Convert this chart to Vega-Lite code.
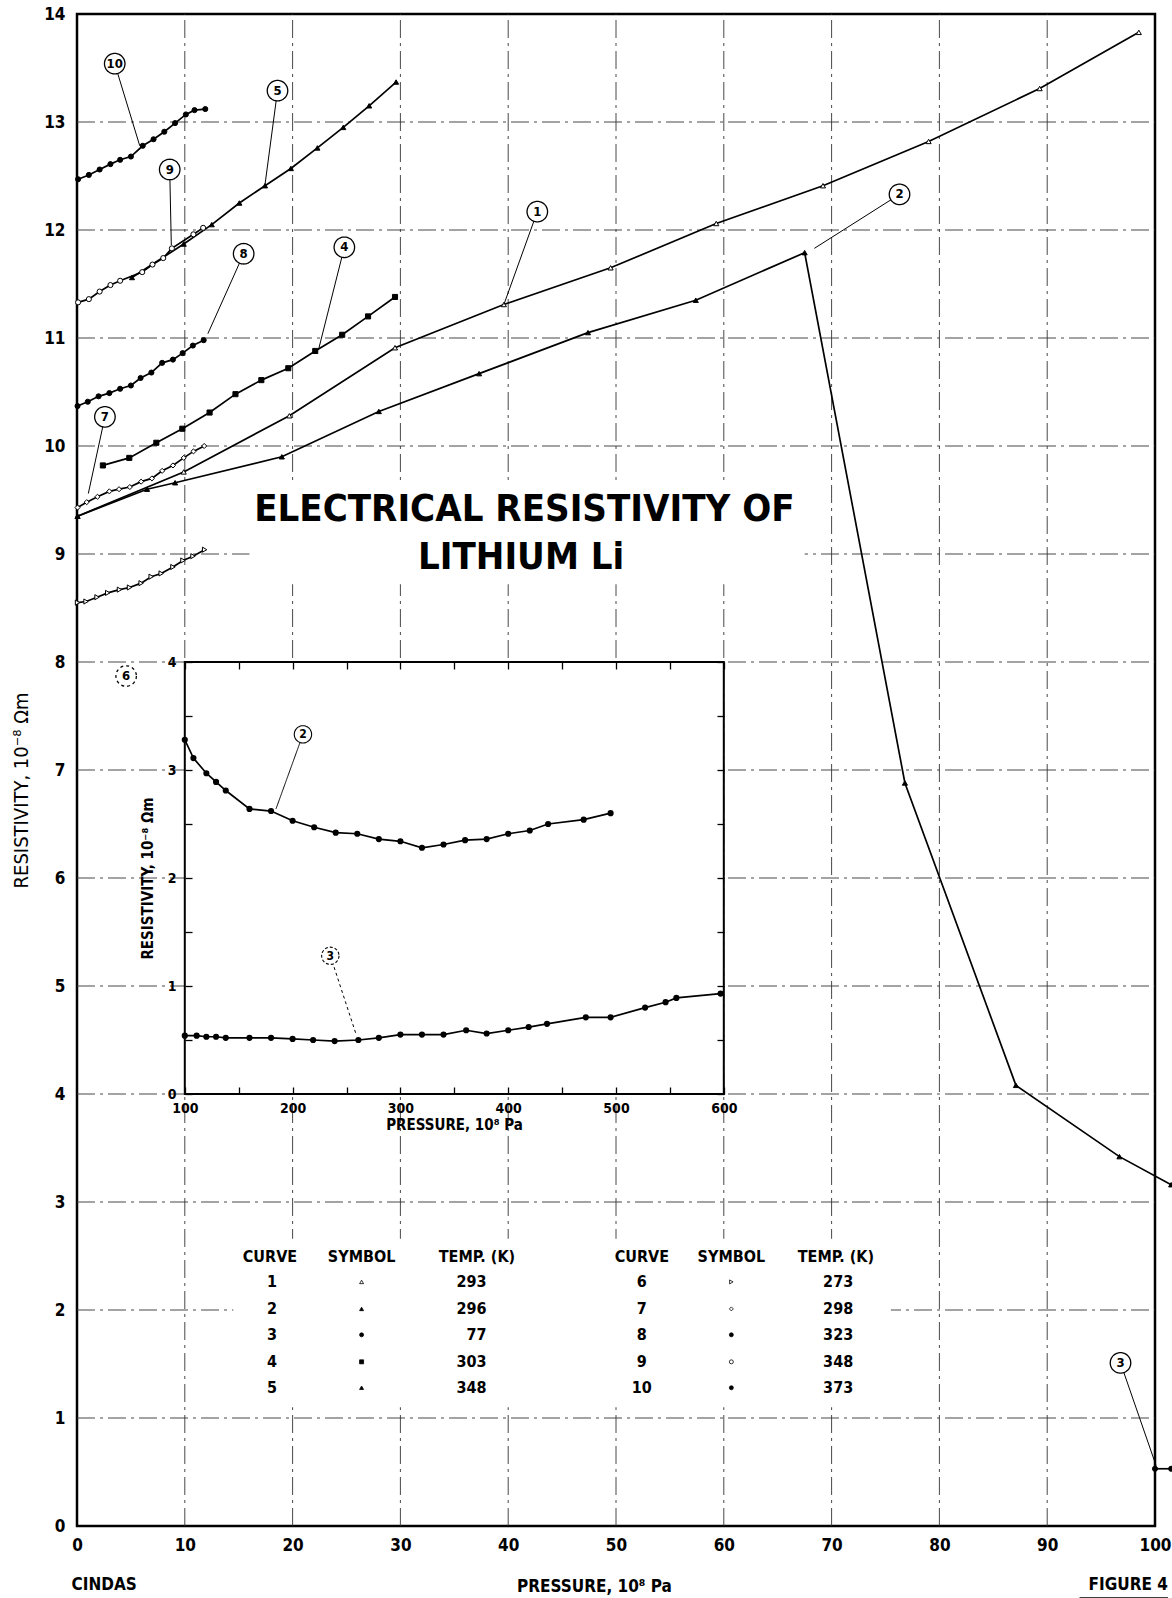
{
  "$schema": "https://vega.github.io/schema/vega-lite/v6.json",
  "width": 1078,
  "height": 1512,
  "autosize": "none",
  "padding": {"left": 77, "top": 14, "right": 17, "bottom": 72},
  "background": "white",
  "config": {
    "font": "Liberation Sans Narrow, DejaVu Sans Condensed, sans-serif",
    "view": {"stroke": "black", "strokeWidth": 2.5},
    "axis": {"labelColor": "black", "titleColor": "black"}
  },
  "datasets": {
    "gridV": [
      {"p": 10, "r": 0, "r2": 14}, {"p": 20, "r": 0, "r2": 14}, {"p": 30, "r": 0, "r2": 14}, {"p": 40, "r": 0, "r2": 14}, {"p": 50, "r": 0, "r2": 14},
      {"p": 60, "r": 0, "r2": 14}, {"p": 70, "r": 0, "r2": 14}, {"p": 80, "r": 0, "r2": 14}, {"p": 90, "r": 0, "r2": 14}
    ],
    "gridH": [
      {"r": 1, "p": 0, "p2": 100}, {"r": 2, "p": 0, "p2": 100}, {"r": 3, "p": 0, "p2": 100}, {"r": 4, "p": 0, "p2": 100}, {"r": 5, "p": 0, "p2": 100},
      {"r": 6, "p": 0, "p2": 100}, {"r": 7, "p": 0, "p2": 100}, {"r": 8, "p": 0, "p2": 100}, {"r": 9, "p": 0, "p2": 100}, {"r": 10, "p": 0, "p2": 100},
      {"r": 11, "p": 0, "p2": 100}, {"r": 12, "p": 0, "p2": 100}, {"r": 13, "p": 0, "p2": 100}
    ],
    "boxes": [
      {"p": 16.0, "p2": 67.5, "r": 8.72, "r2": 9.66},
      {"p": 14.5, "p2": 75.5, "r": 1.1, "r2": 2.66}
    ],
    "curves": [
      {"curve": 1, "p": 0.05, "r": 9.35}, {"curve": 1, "p": 9.9, "r": 9.76}, {"curve": 1, "p": 19.7, "r": 10.28}, {"curve": 1, "p": 29.5, "r": 10.91}, {"curve": 1, "p": 39.6, "r": 11.31}, {"curve": 1, "p": 49.5, "r": 11.65}, {"curve": 1, "p": 59.3, "r": 12.06}, {"curve": 1, "p": 69.2, "r": 12.41}, {"curve": 1, "p": 79.0, "r": 12.82}, {"curve": 1, "p": 89.3, "r": 13.31}, {"curve": 1, "p": 98.5, "r": 13.83},
      {"curve": 2, "p": 0.05, "r": 9.35}, {"curve": 2, "p": 6.5, "r": 9.6}, {"curve": 2, "p": 9.1, "r": 9.66}, {"curve": 2, "p": 19.0, "r": 9.9}, {"curve": 2, "p": 28.0, "r": 10.32}, {"curve": 2, "p": 37.3, "r": 10.67}, {"curve": 2, "p": 47.4, "r": 11.05}, {"curve": 2, "p": 57.4, "r": 11.35}, {"curve": 2, "p": 67.5, "r": 11.79}, {"curve": 2, "p": 76.8, "r": 6.88}, {"curve": 2, "p": 87.1, "r": 4.08}, {"curve": 2, "p": 96.7, "r": 3.42}, {"curve": 2, "p": 101.5, "r": 3.16},
      {"curve": 3, "p": 100.0, "r": 0.53}, {"curve": 3, "p": 101.5, "r": 0.53},
      {"curve": 4, "p": 2.4, "r": 9.82}, {"curve": 4, "p": 4.85, "r": 9.89}, {"curve": 4, "p": 7.36, "r": 10.03}, {"curve": 4, "p": 9.77, "r": 10.16}, {"curve": 4, "p": 12.3, "r": 10.31}, {"curve": 4, "p": 14.7, "r": 10.48}, {"curve": 4, "p": 17.1, "r": 10.61}, {"curve": 4, "p": 19.6, "r": 10.72}, {"curve": 4, "p": 22.1, "r": 10.88}, {"curve": 4, "p": 24.6, "r": 11.03}, {"curve": 4, "p": 27.0, "r": 11.2}, {"curve": 4, "p": 29.5, "r": 11.38},
      {"curve": 5, "p": 5.1, "r": 11.56}, {"curve": 5, "p": 9.9, "r": 11.87}, {"curve": 5, "p": 12.5, "r": 12.05}, {"curve": 5, "p": 15.06, "r": 12.25}, {"curve": 5, "p": 17.44, "r": 12.41}, {"curve": 5, "p": 19.84, "r": 12.57}, {"curve": 5, "p": 22.3, "r": 12.76}, {"curve": 5, "p": 24.7, "r": 12.95}, {"curve": 5, "p": 27.1, "r": 13.15}, {"curve": 5, "p": 29.6, "r": 13.37},
      {"curve": 6, "p": 0.05, "r": 8.55}, {"curve": 6, "p": 0.84, "r": 8.56}, {"curve": 6, "p": 1.86, "r": 8.6}, {"curve": 6, "p": 2.85, "r": 8.64}, {"curve": 6, "p": 3.94, "r": 8.67}, {"curve": 6, "p": 4.87, "r": 8.69}, {"curve": 6, "p": 5.95, "r": 8.73}, {"curve": 6, "p": 6.88, "r": 8.79}, {"curve": 6, "p": 7.81, "r": 8.82}, {"curve": 6, "p": 8.9, "r": 8.88}, {"curve": 6, "p": 9.83, "r": 8.94}, {"curve": 6, "p": 10.76, "r": 8.98}, {"curve": 6, "p": 11.84, "r": 9.04},
      {"curve": 7, "p": 0.05, "r": 9.43}, {"curve": 7, "p": 0.9, "r": 9.48}, {"curve": 7, "p": 1.9, "r": 9.53}, {"curve": 7, "p": 3.0, "r": 9.58}, {"curve": 7, "p": 3.9, "r": 9.6}, {"curve": 7, "p": 4.9, "r": 9.62}, {"curve": 7, "p": 5.95, "r": 9.67}, {"curve": 7, "p": 6.95, "r": 9.7}, {"curve": 7, "p": 7.9, "r": 9.77}, {"curve": 7, "p": 8.9, "r": 9.82}, {"curve": 7, "p": 9.9, "r": 9.89}, {"curve": 7, "p": 10.8, "r": 9.95}, {"curve": 7, "p": 11.8, "r": 10.0},
      {"curve": 8, "p": 0.05, "r": 10.37}, {"curve": 8, "p": 1.0, "r": 10.41}, {"curve": 8, "p": 2.0, "r": 10.46}, {"curve": 8, "p": 3.0, "r": 10.49}, {"curve": 8, "p": 4.0, "r": 10.53}, {"curve": 8, "p": 5.0, "r": 10.56}, {"curve": 8, "p": 5.9, "r": 10.63}, {"curve": 8, "p": 6.9, "r": 10.68}, {"curve": 8, "p": 7.9, "r": 10.77}, {"curve": 8, "p": 8.9, "r": 10.8}, {"curve": 8, "p": 9.8, "r": 10.86}, {"curve": 8, "p": 10.75, "r": 10.93}, {"curve": 8, "p": 11.75, "r": 10.98},
      {"curve": 9, "p": 0.1, "r": 11.33}, {"curve": 9, "p": 1.1, "r": 11.36}, {"curve": 9, "p": 2.1, "r": 11.43}, {"curve": 9, "p": 3.1, "r": 11.49}, {"curve": 9, "p": 4.0, "r": 11.53}, {"curve": 9, "p": 6.05, "r": 11.61}, {"curve": 9, "p": 7.0, "r": 11.68}, {"curve": 9, "p": 8.0, "r": 11.74}, {"curve": 9, "p": 8.8, "r": 11.83}, {"curve": 9, "p": 10.8, "r": 11.96}, {"curve": 9, "p": 11.7, "r": 12.02},
      {"curve": 10, "p": 0.1, "r": 12.47}, {"curve": 10, "p": 1.1, "r": 12.51}, {"curve": 10, "p": 2.1, "r": 12.56}, {"curve": 10, "p": 3.1, "r": 12.61}, {"curve": 10, "p": 4.0, "r": 12.65}, {"curve": 10, "p": 5.0, "r": 12.68}, {"curve": 10, "p": 6.1, "r": 12.78}, {"curve": 10, "p": 7.1, "r": 12.84}, {"curve": 10, "p": 8.1, "r": 12.91}, {"curve": 10, "p": 9.1, "r": 12.99}, {"curve": 10, "p": 10.1, "r": 13.07}, {"curve": 10, "p": 10.9, "r": 13.11}, {"curve": 10, "p": 11.9, "r": 13.12}
    ],
    "labels": [
      {"label": "1", "p": 42.7, "r": 12.17, "p2": 39.6, "r2": 11.31},
      {"label": "2", "p": 76.3, "r": 12.33, "p2": 68.4, "r2": 11.83},
      {"label": "3", "p": 96.8, "r": 1.51, "p2": 100.1, "r2": 0.56},
      {"label": "4", "p": 24.8, "r": 11.84, "p2": 22.4, "r2": 10.89},
      {"label": "5", "p": 18.6, "r": 13.29, "p2": 17.44, "r2": 12.42},
      {"label": "6", "p": 4.56, "r": 7.87, "p2": 4.56, "r2": 7.87},
      {"label": "7", "p": 2.59, "r": 10.27, "p2": 1.05, "r2": 9.56},
      {"label": "8", "p": 15.46, "r": 11.78, "p2": 12.14, "r2": 11.04},
      {"label": "9", "p": 8.6, "r": 12.56, "p2": 8.75, "r2": 11.86},
      {"label": "10", "p": 3.5, "r": 13.54, "p2": 5.82, "r2": 12.78}
    ],
    "legendText": [
      {"text": "CURVE", "p": 17.9, "r": 2.49, "kind": "c"}, {"text": "SYMBOL", "p": 26.4, "r": 2.49, "kind": "c"}, {"text": "TEMP. (K)", "p": 37.1, "r": 2.49, "kind": "c"},
      {"text": "CURVE", "p": 52.4, "r": 2.49, "kind": "c"}, {"text": "SYMBOL", "p": 60.7, "r": 2.49, "kind": "c"}, {"text": "TEMP. (K)", "p": 70.4, "r": 2.49, "kind": "c"},
      {"text": "1", "p": 18.1, "r": 2.26, "kind": "c"}, {"text": "2", "p": 18.1, "r": 2.01, "kind": "c"}, {"text": "3", "p": 18.1, "r": 1.77, "kind": "c"}, {"text": "4", "p": 18.1, "r": 1.52, "kind": "c"}, {"text": "5", "p": 18.1, "r": 1.28, "kind": "c"},
      {"text": "6", "p": 52.4, "r": 2.26, "kind": "c"}, {"text": "7", "p": 52.4, "r": 2.01, "kind": "c"}, {"text": "8", "p": 52.4, "r": 1.77, "kind": "c"}, {"text": "9", "p": 52.4, "r": 1.52, "kind": "c"}, {"text": "10", "p": 52.4, "r": 1.28, "kind": "c"},
      {"text": "293", "p": 38.0, "r": 2.26, "kind": "r"}, {"text": "296", "p": 38.0, "r": 2.01, "kind": "r"}, {"text": "77", "p": 38.0, "r": 1.77, "kind": "r"}, {"text": "303", "p": 38.0, "r": 1.52, "kind": "r"}, {"text": "348", "p": 38.0, "r": 1.28, "kind": "r"},
      {"text": "273", "p": 72.0, "r": 2.26, "kind": "r"}, {"text": "298", "p": 72.0, "r": 2.01, "kind": "r"}, {"text": "323", "p": 72.0, "r": 1.77, "kind": "r"}, {"text": "348", "p": 72.0, "r": 1.52, "kind": "r"}, {"text": "373", "p": 72.0, "r": 1.28, "kind": "r"}
    ],
    "legendSym": [
      {"curve": 1, "p": 26.4, "r": 2.26}, {"curve": 2, "p": 26.4, "r": 2.01}, {"curve": 3, "p": 26.4, "r": 1.77}, {"curve": 4, "p": 26.4, "r": 1.52}, {"curve": 5, "p": 26.4, "r": 1.28},
      {"curve": 6, "p": 60.7, "r": 2.26}, {"curve": 7, "p": 60.7, "r": 2.01}, {"curve": 8, "p": 60.7, "r": 1.77}, {"curve": 9, "p": 60.7, "r": 1.52}, {"curve": 10, "p": 60.7, "r": 1.28}
    ],
    "titles": [
      {"text": "ELECTRICAL RESISTIVITY OF", "p": 41.5, "r": 9.41},
      {"text": "LITHIUM    Li", "p": 41.2, "r": 8.96}
    ],
    "notes": [
      {"text": "CINDAS", "p": -0.5, "r": -0.55, "kind": "l"},
      {"text": "FIGURE  4", "p": 101.2, "r": -0.55, "kind": "r"}
    ],
    "underline": [{"p": 93.0, "p2": 101.2, "r": -0.67}],
    "inset": [
      {"curve": 2, "p": 100, "r": 3.28}, {"curve": 2, "p": 108, "r": 3.11}, {"curve": 2, "p": 120, "r": 2.97}, {"curve": 2, "p": 129, "r": 2.89}, {"curve": 2, "p": 138, "r": 2.81}, {"curve": 2, "p": 160, "r": 2.64}, {"curve": 2, "p": 180, "r": 2.62}, {"curve": 2, "p": 200, "r": 2.53}, {"curve": 2, "p": 220, "r": 2.47}, {"curve": 2, "p": 240, "r": 2.42}, {"curve": 2, "p": 260, "r": 2.41}, {"curve": 2, "p": 280, "r": 2.36}, {"curve": 2, "p": 300, "r": 2.34}, {"curve": 2, "p": 320, "r": 2.28}, {"curve": 2, "p": 340, "r": 2.31}, {"curve": 2, "p": 360, "r": 2.35}, {"curve": 2, "p": 380, "r": 2.36}, {"curve": 2, "p": 400, "r": 2.41}, {"curve": 2, "p": 420, "r": 2.44}, {"curve": 2, "p": 437, "r": 2.5}, {"curve": 2, "p": 470, "r": 2.54}, {"curve": 2, "p": 495, "r": 2.6},
      {"curve": 3, "p": 100, "r": 0.54}, {"curve": 3, "p": 111, "r": 0.54}, {"curve": 3, "p": 120, "r": 0.53}, {"curve": 3, "p": 129, "r": 0.53}, {"curve": 3, "p": 138, "r": 0.52}, {"curve": 3, "p": 160, "r": 0.52}, {"curve": 3, "p": 180, "r": 0.52}, {"curve": 3, "p": 200, "r": 0.51}, {"curve": 3, "p": 219, "r": 0.5}, {"curve": 3, "p": 239, "r": 0.49}, {"curve": 3, "p": 261, "r": 0.5}, {"curve": 3, "p": 280, "r": 0.52}, {"curve": 3, "p": 300, "r": 0.55}, {"curve": 3, "p": 320, "r": 0.55}, {"curve": 3, "p": 340, "r": 0.55}, {"curve": 3, "p": 361, "r": 0.59}, {"curve": 3, "p": 380, "r": 0.56}, {"curve": 3, "p": 400, "r": 0.59}, {"curve": 3, "p": 419, "r": 0.62}, {"curve": 3, "p": 436, "r": 0.65}, {"curve": 3, "p": 472, "r": 0.71}, {"curve": 3, "p": 495, "r": 0.71}, {"curve": 3, "p": 527, "r": 0.8}, {"curve": 3, "p": 546, "r": 0.85}, {"curve": 3, "p": 556, "r": 0.89}, {"curve": 3, "p": 597, "r": 0.93}
    ],
    "insetLabels": [
      {"label": "2", "p": 209.6, "r": 3.33, "p2": 184.6, "r2": 2.64},
      {"label": "3", "p": 235, "r": 1.28, "p2": 259, "r2": 0.55}
    ],
    "insetFrame": [{"p": 100, "p2": 600, "r": 0, "r2": 4}]
  },
  "layer": [
    {
      "encoding": {
        "x": {"field": "p", "type": "quantitative", "scale": {"domain": [0, 100], "nice": false, "zero": false},
          "axis": {"orient": "bottom", "values": [0, 10, 20, 30, 40, 50, 60, 70, 80, 90, 100], "grid": false, "ticks": false, "domain": false, "labelFontSize": 17, "labelFontWeight": "bold", "labelPadding": 11, "labelFlush": false, "title": "PRESSURE, 10⁸ Pa", "titleFontSize": 17, "titleFontWeight": "bold", "titlePadding": 25, "titleX": 517, "zindex": 0}},
        "y": {"field": "r", "type": "quantitative", "scale": {"domain": [0, 14], "nice": false, "zero": false},
          "axis": {"orient": "left", "values": [0, 1, 2, 3, 4, 5, 6, 7, 8, 9, 10, 11, 12, 13, 14], "grid": false, "ticks": false, "domain": false, "labelFontSize": 17, "labelFontWeight": "bold", "labelPadding": 12, "labelFlush": false, "title": "RESISTIVITY,  10⁻⁸  Ωm", "titleFontSize": 20, "titleFontWeight": "normal", "titlePadding": 12, "titleY": 776, "zindex": 0}}
      },
      "layer": [
        {
          "data": {"name": "gridV"},
          "mark": {"type": "rule", "color": "#333", "strokeWidth": 0.9, "strokeDash": [18, 5, 3, 5]},
          "encoding": {"y2": {"field": "r2"}}
        },
        {
          "data": {"name": "gridH"},
          "mark": {"type": "rule", "color": "#333", "strokeWidth": 0.9, "strokeDash": [18, 5, 3, 5]},
          "encoding": {"x2": {"field": "p2"}}
        },
        {
          "data": {"name": "boxes"},
          "mark": {"type": "rect", "fill": "white", "fillOpacity": 1, "strokeWidth": 0},
          "encoding": {"x2": {"field": "p2"}, "y2": {"field": "r2"}}
        },
        {
          "data": {"name": "curves"},
          "mark": {"type": "line", "color": "black", "strokeWidth": 1.7},
          "encoding": {"detail": {"field": "curve", "type": "nominal"}}
        },
        {
          "data": {"name": "curves"},
          "mark": {"type": "point", "filled": true, "stroke": "black", "strokeWidth": 1, "opacity": 1},
          "encoding": {
            "shape": {"field": "curve", "type": "nominal", "legend": null, "scale": {"domain": [1, 2, 3, 4, 5, 6, 7, 8, 9, 10], "range": ["triangle-up", "triangle-up", "circle", "square", "triangle-up", "triangle-right", "diamond", "circle", "circle", "circle"]}},
            "fill": {"field": "curve", "type": "nominal", "legend": null, "scale": {"domain": [1, 2, 3, 4, 5, 6, 7, 8, 9, 10], "range": ["white", "black", "black", "black", "black", "white", "white", "black", "white", "black"]}},
            "size": {"field": "curve", "type": "ordinal", "legend": null, "scale": {"domain": [1, 2, 3, 4, 5, 6, 7, 8, 9, 10], "range": [26, 26, 32, 44, 32, 24, 48, 44, 32, 44]}}
          }
        },
        {
          "data": {"name": "labels"},
          "mark": {"type": "rule", "color": "black", "strokeWidth": 1},
          "encoding": {"x2": {"field": "p2"}, "y2": {"field": "r2"}}
        },
        {
          "data": {"name": "labels"},
          "mark": {"type": "point", "shape": "circle", "size": 420, "filled": true, "fill": "white", "stroke": "black", "strokeWidth": 1.3, "opacity": 1},
          "encoding": {"strokeDash": {"condition": {"test": "datum.label === '6'", "value": [3, 3]}, "value": [1, 0]}}
        },
        {
          "data": {"name": "labels"},
          "mark": {"type": "text", "fontSize": 13, "fontWeight": "bold", "color": "black", "baseline": "middle"},
          "encoding": {"text": {"field": "label"}}
        },
        {
          "data": {"name": "legendText"},
          "transform": [{"filter": "datum.kind === 'c'"}],
          "mark": {"type": "text", "fontSize": 16, "fontWeight": "bold", "color": "black", "align": "center", "baseline": "middle"},
          "encoding": {"text": {"field": "text"}}
        },
        {
          "data": {"name": "legendText"},
          "transform": [{"filter": "datum.kind === 'r'"}],
          "mark": {"type": "text", "fontSize": 16, "fontWeight": "bold", "color": "black", "align": "right", "baseline": "middle"},
          "encoding": {"text": {"field": "text"}}
        },
        {
          "data": {"name": "legendSym"},
          "mark": {"type": "point", "filled": true, "stroke": "black", "strokeWidth": 0.8, "size": 16, "opacity": 1},
          "encoding": {
            "shape": {"field": "curve", "type": "nominal", "legend": null},
            "fill": {"field": "curve", "type": "nominal", "legend": null}
          }
        },
        {
          "data": {"name": "titles"},
          "mark": {"type": "text", "fontSize": 38, "fontWeight": "bold", "color": "black", "align": "center", "baseline": "middle"},
          "encoding": {"text": {"field": "text"}}
        },
        {
          "data": {"name": "notes"},
          "transform": [{"filter": "datum.kind === 'l'"}],
          "mark": {"type": "text", "fontSize": 17, "fontWeight": "bold", "color": "black", "align": "left", "baseline": "middle"},
          "encoding": {"text": {"field": "text"}}
        },
        {
          "data": {"name": "notes"},
          "transform": [{"filter": "datum.kind === 'r'"}],
          "mark": {"type": "text", "fontSize": 17, "fontWeight": "bold", "color": "black", "align": "right", "baseline": "middle"},
          "encoding": {"text": {"field": "text"}}
        },
        {
          "data": {"name": "underline"},
          "mark": {"type": "rule", "color": "black", "strokeWidth": 2},
          "encoding": {"x2": {"field": "p2"}}
        }
      ]
    },
    {
      "encoding": {
        "x": {"field": "p", "type": "quantitative", "scale": {"domain": [0, 1000], "nice": false, "zero": false}, "axis": null},
        "y": {"field": "r", "type": "quantitative", "scale": {"domain": [-4, 10], "nice": false, "zero": false}, "axis": null}
      },
      "layer": [
        {
          "data": {"name": "insetFrame"},
          "mark": {"type": "rect", "fill": "white", "fillOpacity": 1, "stroke": "black", "strokeWidth": 2},
          "encoding": {
            "x": {"field": "p", "type": "quantitative", "scale": {"domain": [0, 1000], "nice": false, "zero": false},
              "axis": {"orient": "bottom", "offset": -432, "zindex": 1, "values": [100, 150, 200, 250, 300, 350, 400, 450, 500, 550, 600], "labelExpr": "datum.value % 100 === 0 ? datum.label : ''", "tickSize": -7, "tickColor": "black", "tickWidth": 1.3, "domain": false, "grid": false, "labelFontSize": 14, "labelFontWeight": "bold", "labelPadding": 14, "labelFlush": false, "title": "PRESSURE, 10⁸ Pa", "titleFontSize": 15, "titleFontWeight": "bold", "titlePadding": 2, "titleX": 377}},
            "x2": {"field": "p2"},
            "y": {"field": "r", "type": "quantitative", "scale": {"domain": [-4, 10], "nice": false, "zero": false},
              "axis": {"orient": "left", "offset": -108, "zindex": 1, "values": [0, 0.5, 1, 1.5, 2, 2.5, 3, 3.5, 4], "labelExpr": "datum.value % 1 === 0 ? datum.label : ''", "tickSize": -7, "tickColor": "black", "tickWidth": 1.3, "domain": false, "grid": false, "labelFontSize": 14, "labelFontWeight": "bold", "labelPadding": 16, "labelFlush": false, "title": "RESISTIVITY, 10⁻⁸ Ωm", "titleFontSize": 15, "titleFontWeight": "bold", "titlePadding": 12, "titleY": 864}},
            "y2": {"field": "r2"}
          }
        },
        {
          "data": {"name": "insetFrame"},
          "mark": {"type": "rect", "opacity": 0},
          "encoding": {
            "x": {"field": "p", "type": "quantitative", "scale": {"domain": [0, 1000], "nice": false, "zero": false},
              "axis": {"orient": "top", "offset": -648, "zindex": 1, "values": [100, 150, 200, 250, 300, 350, 400, 450, 500, 550, 600], "labels": false, "tickSize": -7, "tickColor": "black", "tickWidth": 1.3, "domain": false, "grid": false, "title": null}},
            "x2": {"field": "p2"},
            "y": {"field": "r", "type": "quantitative", "scale": {"domain": [-4, 10], "nice": false, "zero": false},
              "axis": {"orient": "right", "offset": -431, "zindex": 1, "values": [0, 0.5, 1, 1.5, 2, 2.5, 3, 3.5, 4], "labels": false, "tickSize": -7, "tickColor": "black", "tickWidth": 1.3, "domain": false, "grid": false, "title": null}},
            "y2": {"field": "r2"}
          }
        },
        {
          "data": {"name": "inset"},
          "mark": {"type": "line", "color": "black", "strokeWidth": 1.7},
          "encoding": {"detail": {"field": "curve", "type": "nominal"}}
        },
        {
          "data": {"name": "inset"},
          "mark": {"type": "point", "shape": "circle", "filled": true, "fill": "black", "size": 38, "opacity": 1}
        },
        {
          "data": {"name": "insetLabels"},
          "mark": {"type": "rule", "color": "black", "strokeWidth": 1},
          "encoding": {"x2": {"field": "p2"}, "y2": {"field": "r2"}, "strokeDash": {"condition": {"test": "datum.label === '3'", "value": [3, 3]}, "value": [1, 0]}}
        },
        {
          "data": {"name": "insetLabels"},
          "mark": {"type": "point", "shape": "circle", "size": 300, "filled": true, "fill": "white", "stroke": "black", "strokeWidth": 1.1, "opacity": 1},
          "encoding": {"strokeDash": {"condition": {"test": "datum.label === '3'", "value": [3, 2]}, "value": [1, 0]}}
        },
        {
          "data": {"name": "insetLabels"},
          "mark": {"type": "text", "fontSize": 12, "fontWeight": "bold", "color": "black", "baseline": "middle"},
          "encoding": {"text": {"field": "label"}}
        }
      ],
      "resolve": {"axis": {"x": "independent", "y": "independent"}}
    }
  ],
  "resolve": {"scale": {"x": "independent", "y": "independent"}, "axis": {"x": "independent", "y": "independent"}}
}
